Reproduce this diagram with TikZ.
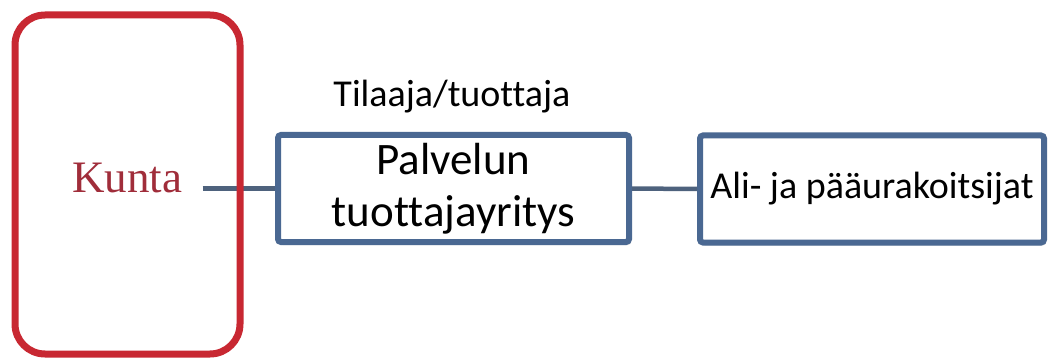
\documentclass[tikz,border=0pt]{standalone}
\usepackage{fontspec}
\setmainfont{Carlito}[Ligatures=NoCommon]
\newfontfamily\kuntafont{Liberation Serif}
\usetikzlibrary{shadows}
\definecolor{kuntared}{RGB}{200,40,50}
\definecolor{kuntatext}{RGB}{160,45,58}
\definecolor{boxblue}{RGB}{74,104,146}
\definecolor{linkblue}{RGB}{78,98,125}

\begin{document}
\begin{tikzpicture}[x=1pt, y=-1pt,
	bluebox/.style={draw=boxblue, line width=6pt, rounded corners=3pt, fill=white,
		drop shadow={opacity=0.25, shadow xshift=2pt, shadow yshift=-3pt},
		minimum height=107pt, inner sep=0pt, align=center},
	link/.style={draw=linkblue, line width=4.5pt}]
				\useasboundingbox (0,0) rectangle (1048,363);
				\node[text=kuntatext, font=\kuntafont\fontsize{45}{54}\selectfont] (kunta)at(127,178) {Kunta};
				\node[bluebox, minimum width=351pt, font=\fontsize{45}{52}\selectfont] (palvelu)at(453.5,188.5) {Palvelun\\tuottajayritys};
				\node[anchor=base, font=\fontsize{38}{46}\selectfont] (tilaaja)at(452,107) {Tilaaja/tuottaja};
				\node[bluebox, minimum width=344pt, font=\fontsize{38}{46}\selectfont] (ali)at(872,189) {Ali- ja pääurakoitsijat};
				\draw[link, shorten <=17pt] (kunta.east |- palvelu.west) -- (palvelu.west);
				\draw[link] (palvelu) -- (ali);
				\node[draw=kuntared, line width=7pt, rounded corners=30pt, minimum width=225pt, minimum height=339pt] (kuntabox)at(127.5,184.5) {};
			\end{tikzpicture}
\end{document}
